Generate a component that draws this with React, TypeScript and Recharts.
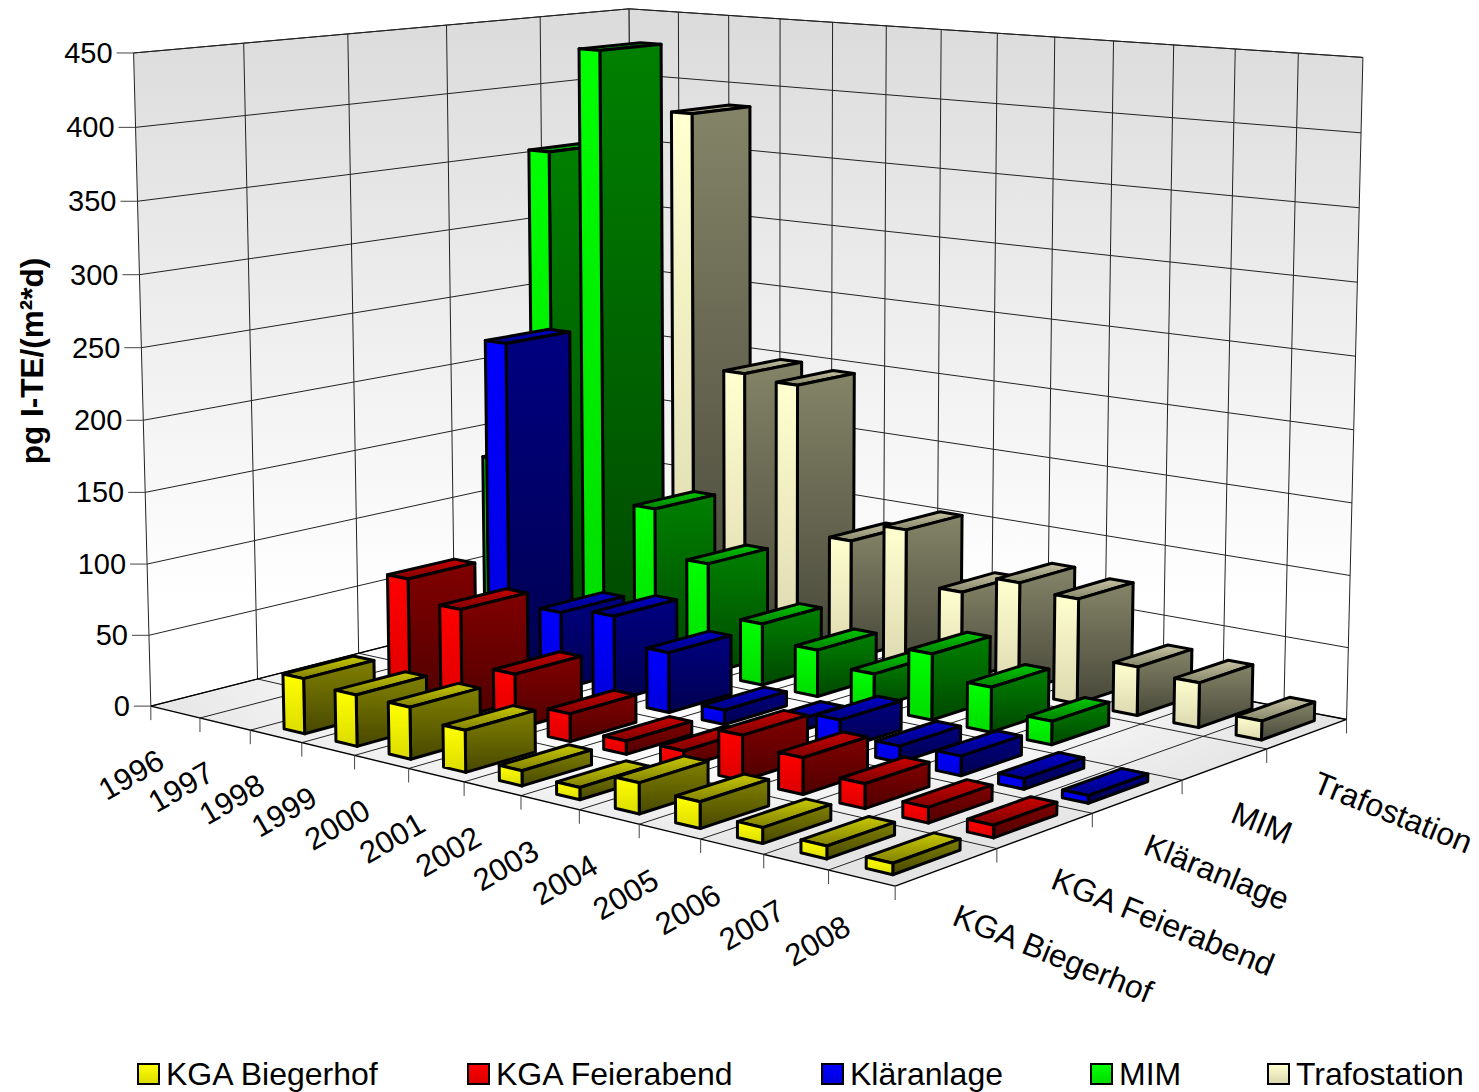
import React from 'react';
import { ScatterChart, Scatter, XAxis, YAxis, Legend } from 'recharts';

const years = [1996, 1997, 1998, 1999, 2000, 2001, 2002, 2003, 2004, 2005, 2006, 2007, 2008];
const stations = ['KGA Biegerhof', 'KGA Feierabend', 'Kläranlage', 'MIM', 'Trafostation'];
const valueTicks = [0, 50, 100, 150, 200, 250, 300, 350, 400, 450];

const biegerhof = [null, null, 38, 35, 35, 28, 10, 8, 20, 17, 10, 8, 7];
const feierabend = [null, null, 89, 75, 38, 19, 9, 11, 30, 24, 16, 10, 8];
const klaeranlage = [null, null, 240, 55, 60, 42, 10, 8, 20, 11, 13, 7, 5];
const mim = [130, 362, 438, 113, 80, 44, 33, 24, 46, 31, 16, null, null];
const trafostation = [null, null, 385, 198, 195, 87, 102, 64, 78, 74, 34, 31, 13];
const seriesValues = [biegerhof, feierabend, klaeranlage, mim, trafostation];

const W = 1479;
const H = 1092;
const NY = years.length;
const NS = stations.length;
const VMAX = 450;

// camera calibration: [year slot, station slot, value] -> picture position of the box corners and edges
const calib: number[][] = [
  [0, 0, 0, 150.7, 705], [1, 0, 0, 199.7, 717.7], [2, 0, 0, 250, 730], [3, 0, 0, 301.7, 742.7],
  [4, 0, 0, 354, 755.3], [5, 0, 0, 408.3, 768.7], [6, 0, 0, 464, 782.3], [7, 0, 0, 520.7, 796],
  [9, 0, 0, 639.3, 824.3], [10, 0, 0, 700.7, 839.3], [11, 0, 0, 764, 855], [12, 0, 0, 828.7, 870.7],
  [13, 0, 0, 895.3, 886], [13, 1, 0, 996.7, 848.3], [13, 2, 0, 1092.7, 813.3], [13, 3, 0, 1181.7, 779.3],
  [13, 4, 0, 1266.7, 748.3], [13, 5, 0, 1346.7, 719], [0, 5, 0, 632.7, 585],
  [0, 0, 50, 149, 635], [0, 0, 100, 147, 564], [0, 0, 200, 144, 420], [0, 0, 250, 142.5, 348],
  [0, 0, 300, 140, 275], [0, 0, 350, 138, 201.3], [0, 0, 400, 135.5, 127.7], [0, 0, 450, 132.8, 52.7],
  [0, 1, 450, 243, 43], [0, 2, 450, 347.8, 34], [0, 3, 450, 446.6, 25], [0, 4, 450, 540, 16.7],
  [0, 5, 450, 629, 8.3], [13, 5, 450, 1363, 58],
];

function solveCamera(): number[] {
  const n = 11;
  const A = Array.from({ length: n }, () => new Array(n + 1).fill(0));
  const add = (r: number[], b: number) => {
    for (let i = 0; i < n; i++) {
      for (let j = 0; j < n; j++) A[i][j] += r[i] * r[j];
      A[i][n] += r[i] * b;
    }
  };
  for (const [u, v, w, sx, sy] of calib) {
    const a = u / NY, b = v / NS, c = w / VMAX;
    const X = sx / 1000, Y = sy / 1000;
    add([a, b, c, 1, 0, 0, 0, 0, -X * a, -X * b, -X * c], X);
    add([0, 0, 0, 0, a, b, c, 1, -Y * a, -Y * b, -Y * c], Y);
  }
  for (let i = 0; i < n; i++) {
    let p = i;
    for (let r = i + 1; r < n; r++) if (Math.abs(A[r][i]) > Math.abs(A[p][i])) p = r;
    [A[i], A[p]] = [A[p], A[i]];
    for (let r = 0; r < n; r++) {
      if (r === i) continue;
      const f = A[r][i] / A[i][i];
      for (let k = i; k <= n; k++) A[r][k] -= f * A[i][k];
    }
  }
  return A.map((row, i) => row[n] / row[i]);
}
const cam = solveCamera();

function project(u: number, v: number, w: number): [number, number] {
  const a = u / NY, b = v / NS, c = w / VMAX;
  const d = cam[8] * a + cam[9] * b + cam[10] * c + 1;
  return [
    (1000 * (cam[0] * a + cam[1] * b + cam[2] * c + cam[3])) / d,
    (1000 * (cam[4] * a + cam[5] * b + cam[6] * c + cam[7])) / d,
  ];
}
const pts = (list: [number, number][]) => list.map((p) => p[0].toFixed(2) + ',' + p[1].toFixed(2)).join(' ');

const BAR_A = 0.3;
const BAR_B = 0.7;
const DEPTH_A = 0.17;
const DEPTH_B = 0.83;

type Row = { x: number; y: number; year: number; station: number; value: number };
const barRows = (s: number): Row[] => {
  const rows: Row[] = [];
  seriesValues[s].forEach((value, i) => {
    if (value === null) return;
    const [x, y] = project(i + 0.5, s + DEPTH_A, 0);
    rows.push({ x, y, year: i, station: s, value });
  });
  return rows;
};

function Bar3D(props: any) {
  const { year: i, station: s, value } = props.payload as Row;
  const u0 = i + BAR_A, u1 = i + BAR_B, v0 = s + DEPTH_A, v1 = s + DEPTH_B;
  const front = [project(u0, v0, 0), project(u1, v0, 0), project(u1, v0, value), project(u0, v0, value)];
  const side = [project(u1, v0, 0), project(u1, v1, 0), project(u1, v1, value), project(u1, v0, value)];
  const top = [project(u0, v0, value), project(u1, v0, value), project(u1, v1, value), project(u0, v1, value)];
  const common = { stroke: '#000', strokeWidth: 3, strokeLinejoin: 'round' as const };
  return (
    <g>
      <polygon points={pts(top)} fill={`url(#top${s})`} {...common} />
      <polygon points={pts(side)} fill={`url(#side${s})`} {...common} />
      <polygon points={pts(front)} fill={`url(#front${s})`} {...common} />
    </g>
  );
}

type FrameRow = { x: number; y: number; kind: string; a: [number, number][] };
const frameRows: FrameRow[] = [];
const addFrame = (kind: string, a: [number, number][]) => frameRows.push({ x: a[0][0], y: a[0][1], kind, a });
addFrame('floor', [project(0, 0, 0), project(NY, 0, 0), project(NY, NS, 0), project(0, NS, 0)]);
addFrame('wall', [project(0, 0, 0), project(0, NS, 0), project(0, NS, VMAX), project(0, 0, VMAX)]);
addFrame('wall', [project(0, NS, 0), project(NY, NS, 0), project(NY, NS, VMAX), project(0, NS, VMAX)]);
valueTicks.forEach((t) => {
  if (t === 0) return;
  addFrame('line', [project(0, 0, t), project(0, NS, t)]);
  addFrame('line', [project(0, NS, t), project(NY, NS, t)]);
});
for (let i = 1; i < NS; i++) addFrame('line', [project(0, i, 0), project(0, i, VMAX)]);
for (let i = 1; i < NY; i++) addFrame('line', [project(i, NS, 0), project(i, NS, VMAX)]);
for (let i = 1; i < NS; i++) addFrame('line', [project(0, i, 0), project(NY, i, 0)]);
for (let i = 1; i < NY; i++) addFrame('line', [project(i, 0, 0), project(i, NS, 0)]);
addFrame('edge', [project(0, 0, 0), project(NY, 0, 0)]);
addFrame('edge', [project(NY, 0, 0), project(NY, NS, 0)]);
addFrame('edge', [project(0, 0, 0), project(0, NS, 0)]);
addFrame('edge', [project(0, NS, 0), project(NY, NS, 0)]);
for (let i = 0; i <= NY; i++) {
  const p = project(i, 0, 0);
  addFrame('tick', [p, [p[0], p[1] + 14]]);
}
for (let i = 1; i <= NS; i++) {
  const p = project(NY, i, 0);
  addFrame('tick', [p, [p[0], p[1] + 14]]);
}
valueTicks.forEach((t) => {
  const p = project(0, 0, t);
  addFrame('tick', [p, [p[0] - 17, p[1]]]);
});

function FrameShape(props: any) {
  const { kind, a } = props.payload as FrameRow;
  if (kind === 'floor') return <polygon points={pts(a)} fill="url(#floorFill)" stroke="none" />;
  if (kind === 'wall') return <polygon points={pts(a)} fill="url(#wallFill)" stroke="#222" strokeWidth={1} />;
  const stroke = kind === 'tick' ? '#444' : kind === 'edge' ? '#000' : '#222';
  const width = kind === 'edge' ? 1.4 : 1;
  return <line x1={a[0][0]} y1={a[0][1]} x2={a[1][0]} y2={a[1][1]} stroke={stroke} strokeWidth={width} />;
}

const FONT = '"Liberation Sans", Arial, sans-serif';

function YearTick(props: any) {
  const i = years.indexOf(props.payload.value);
  const [x, y] = project(i + 0.5, 0, 0);
  const px = x - 44, py = y + 63;
  return (
    <text x={px} y={py} textAnchor="middle" dominantBaseline="central" fontFamily={FONT} fontSize={31}
      transform={`rotate(-30 ${px} ${py})`} fill="#000">{props.payload.value}</text>
  );
}
function StationTick(props: any) {
  const s = props.payload.value as number;
  const [x, y] = project(NY, s + 0.5, 0);
  const px = x + 8, py = y + 47;
  return (
    <text x={px} y={py} textAnchor="start" dominantBaseline="central" fontFamily={FONT} fontSize={32}
      transform={`rotate(22 ${px} ${py})`} fill="#000">{stations[s]}</text>
  );
}
function ValueTick(props: any) {
  const [x, y] = project(0, 0, props.payload.value);
  return (
    <text x={x - 21} y={y} textAnchor="end" dominantBaseline="central" fontFamily={FONT} fontSize={29} fill="#000">
      {props.payload.value}
    </text>
  );
}
function AxisTitle() {
  return (
    <text x={32} y={361} textAnchor="middle" dominantBaseline="central" fontFamily={FONT} fontSize={31.5}
      fontWeight="bold" transform="rotate(-90 32 361)" fill="#000">pg I-TE/(m²*d)</text>
  );
}

const palette = [
  { front: ['#ffff00', '#dcdc00'], side: ['#808000', '#484800'], top: ['#c8c800', '#808000'] },
  { front: ['#ff0000', '#dc0000'], side: ['#800000', '#500000'], top: ['#c80000', '#800000'] },
  { front: ['#0000ff', '#0000dc'], side: ['#000080', '#000050'], top: ['#0000c8', '#000080'] },
  { front: ['#00ff00', '#00dc00'], side: ['#008000', '#004800'], top: ['#00c800', '#008000'] },
  { front: ['#ffffcf', '#dcd8b0'], side: ['#848468', '#48483a'], top: ['#c8c4a4', '#848468'] },
];
const legendX = [137, 467, 821, 1090, 1267];

function Grad({ id, c }: { id: string; c: string[] }) {
  return (
    <linearGradient id={id} x1="0" y1="0" x2="0" y2="1">
      <stop offset="0" stopColor={c[0]} />
      <stop offset="1" stopColor={c[1]} />
    </linearGradient>
  );
}

function LegendBox() {
  return (
    <div style={{ position: 'relative', width: W, height: 42 }}>
      {stations.map((name, i) => (
        <div key={name} style={{ position: 'absolute', left: legendX[i], top: 0, height: 42, display: 'flex', alignItems: 'center' }}>
          <span style={{
            width: 19, height: 18, border: '2px solid #000', display: 'inline-block', marginRight: 6,
            background: `linear-gradient(${palette[i].front[0]}, ${palette[i].front[1]})`,
          }} />
          <span style={{ fontFamily: FONT, fontSize: 32, color: '#000', whiteSpace: 'nowrap' }}>{name}</span>
        </div>
      ))}
    </div>
  );
}

const order = [4, 3, 2, 1, 0];
const yearAnchors = years.map((x) => ({ x, y: 0 }));
const stationAnchors = stations.map((_, x) => ({ x, y: 0 }));
const NoMark = () => <g />;

export default function App() {
  return (
    <div style={{ position: 'absolute', left: 0, top: 0, width: W, height: H, overflow: 'hidden', background: '#fff' }}>
      <svg width={0} height={0} style={{ position: 'absolute' }}>
        <defs>
          <linearGradient id="wallFill" gradientUnits="userSpaceOnUse" x1="0" y1="10" x2="0" y2="600">
            <stop offset="0" stopColor="#dbdbdb" />
            <stop offset="1" stopColor="#ffffff" />
          </linearGradient>
          <radialGradient id="floorFill" gradientUnits="userSpaceOnUse" cx="0" cy="0" r="620"
            gradientTransform="translate(730 660) scale(1 0.32)">
            <stop offset="0" stopColor="#ffffff" />
            <stop offset="0.55" stopColor="#fafafa" />
            <stop offset="1" stopColor="#e4e4e4" />
          </radialGradient>
          {palette.map((p, i) => (
            <React.Fragment key={i}>
              <Grad id={`front${i}`} c={p.front} />
              <Grad id={`side${i}`} c={p.side} />
              <Grad id={`top${i}`} c={p.top} />
            </React.Fragment>
          ))}
        </defs>
      </svg>
      <ScatterChart width={W} height={H} margin={{ top: 0, right: 0, bottom: 0, left: 0 }}>
        <XAxis xAxisId="px" type="number" dataKey="x" domain={[0, W]} hide />
        <YAxis yAxisId="px" type="number" dataKey="y" domain={[0, H]} reversed hide />
        <XAxis xAxisId="years" type="number" dataKey="x" domain={[1996, 2008]} ticks={years} interval={0} height={1}
          axisLine={false} tickLine={false} tick={<YearTick />} />
        <XAxis xAxisId="stations" type="number" dataKey="x" domain={[0, NS - 1]} ticks={stations.map((_, i) => i)} interval={0}
          height={1} axisLine={false} tickLine={false} tick={<StationTick />} />
        <YAxis yAxisId="values" type="number" dataKey="y" domain={[0, VMAX]} ticks={valueTicks} interval={0} width={1}
          axisLine={false} tickLine={false} tick={<ValueTick />} label={<AxisTitle />} />
        <Scatter name="years" xAxisId="years" yAxisId="values" data={yearAnchors} shape={<NoMark />} isAnimationActive={false} legendType="none" />
        <Scatter name="stations" xAxisId="stations" yAxisId="values" data={stationAnchors} shape={<NoMark />} isAnimationActive={false} legendType="none" />
        <Scatter name="frame" xAxisId="px" yAxisId="px" data={frameRows} shape={<FrameShape />} isAnimationActive={false} legendType="none" />
        {order.map((s) => (
          <Scatter key={s} name={stations[s]} xAxisId="px" yAxisId="px" data={barRows(s)} shape={<Bar3D />}
            fill={palette[s].front[0]} isAnimationActive={false} />
        ))}
        <Legend layout="horizontal" verticalAlign="middle" align="center" content={<LegendBox />}
          wrapperStyle={{ position: 'absolute', left: 0, top: 1053, width: W, height: 42, bottom: 'auto' }} />
      </ScatterChart>
    </div>
  );
}
